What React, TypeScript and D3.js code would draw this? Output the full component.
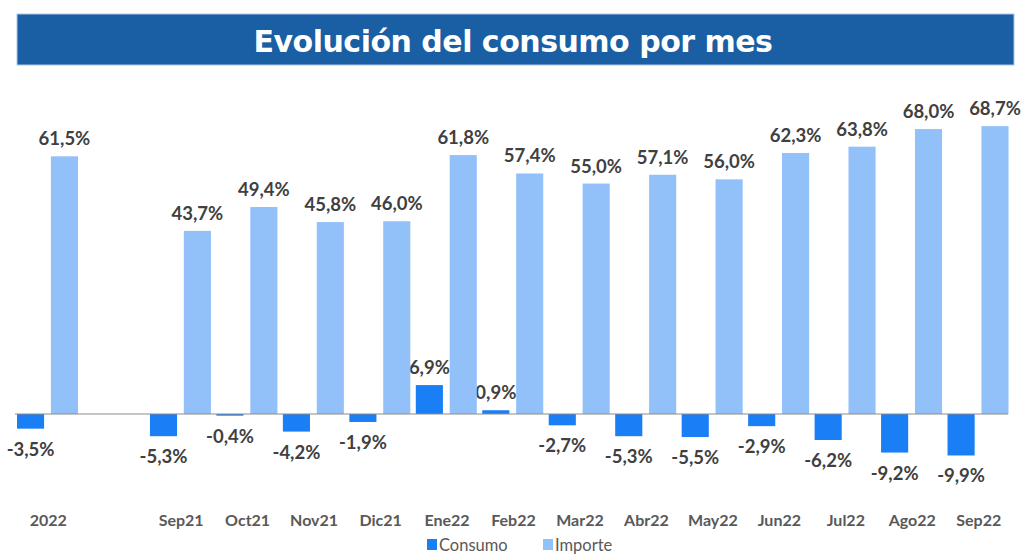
import React from "react";
import * as d3 from "d3";

const categories = ["2022", "", "Sep21", "Oct21", "Nov21", "Dic21", "Ene22", "Feb22", "Mar22", "Abr22", "May22", "Jun22", "Jul22", "Ago22", "Sep22"];
const consumo: (number | null)[] = [-3.5, null, -5.3, -0.4, -4.2, -1.9, 6.9, 0.9, -2.7, -5.3, -5.5, -2.9, -6.2, -9.2, -9.9];
const importe: (number | null)[] = [61.5, null, 43.7, 49.4, 45.8, 46.0, 61.8, 57.4, 55.0, 57.1, 56.0, 62.3, 63.8, 68.0, 68.7];
const seriesNames = ["Consumo", "Importe"];
const seriesColors = ["#1a7ef5", "#92c1fa"];
const title = "Evolución del consumo por mes";

const W = 1024;
const H = 555;
const FONT = "Lato, 'Open Sans', sans-serif";
const fmt = (v: number) => v.toFixed(1).replace(".", ",") + "%";

export default function App() {
  const keys = categories.map((c, i) => `${i}`);
  const x = d3.scaleBand<string>().domain(keys).range([15, 1012]).padding(0);
  const inner = d3.scaleBand<string>().domain(seriesNames).range([2, 63]).paddingInner(0.2);
  const y = d3.scaleLinear().domain([-15, 75]).range([414 + 15 * 4.19, 414 - 75 * 4.19]);
  const y0 = y(0);
  const series = [consumo, importe];

  return (
    <svg width={W} height={H} style={{ position: "absolute", left: 0, top: 0 }} fontFamily={FONT}>
      <rect x={0} y={0} width={W} height={H} fill="#fff" />
      <rect x={17} y={14} width={997} height={51} fill="#1a5ea3" stroke="#a9c9ea" strokeWidth={1} />
      <text x={513} y={52} textAnchor="middle" fill="#fff" fontSize={30} fontWeight="bold" fontFamily="'DejaVu Sans', sans-serif" letterSpacing={-0.5}>
        {title}
      </text>

      {series.map((vals, si) =>
        vals.map((v, i) => {
          if (v === null) return null;
          const bx = (x(keys[i]) ?? 0) + (inner(seriesNames[si]) ?? 0);
          const bw = inner.bandwidth();
          const top = Math.min(y(v), y0);
          const h = Math.abs(y(v) - y0);
          const ly = v >= 0 ? y(v) - 11 : y(v) + 27;
          return (
            <g key={`${si}-${i}`}>
              <rect x={bx} y={top} width={bw} height={h} fill={seriesColors[si]} />
              <text x={bx + bw / 2} y={ly} textAnchor="middle" fontSize={18.5} fontWeight="bold" fill="#404040">
                {fmt(v)}
              </text>
            </g>
          );
        })
      )}

      <line x1={15} x2={1008} y1={y0} y2={y0} stroke="#8c8c8c" strokeWidth={1.2} />

      {categories.map((c, i) => (
        <text key={c + i} x={(x(keys[i]) ?? 0) + x.bandwidth() / 2} y={526} textAnchor="middle" fontSize={16} fontWeight="bold" fill="#595959">
          {c}
        </text>
      ))}

      {seriesNames.map((s, i) => {
        const lx = i === 0 ? 427 : 543;
        return (
          <g key={s}>
            <rect x={lx} y={539} width={10} height={11} fill={seriesColors[i]} />
            <text x={lx + 12} y={551} fontSize={16.5} fill="#595959">
              {s}
            </text>
          </g>
        );
      })}
    </svg>
  );
}
